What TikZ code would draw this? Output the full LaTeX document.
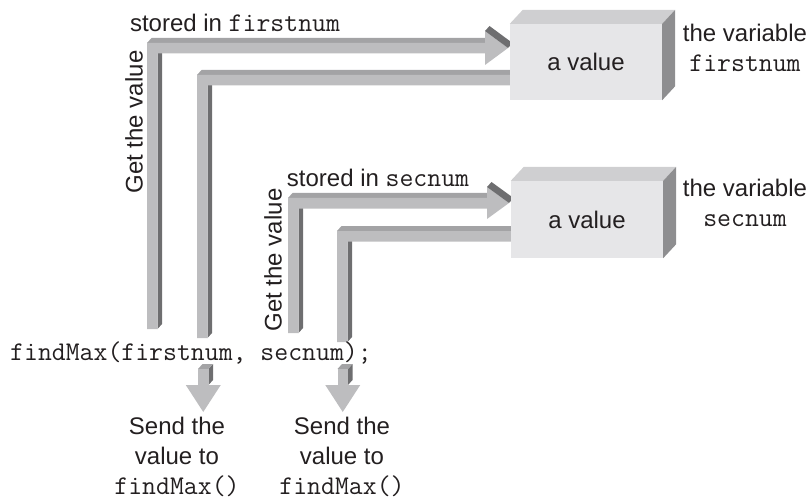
\documentclass[tikz,border=0pt]{standalone}
\usepackage{fontspec}
\setmainfont{Liberation Sans}
\definecolor{barfront}{HTML}{BDBDBF}
\definecolor{bartop}{HTML}{A3A3A5}
\definecolor{barside}{HTML}{6E6E70}
\definecolor{boxfront}{HTML}{E6E6E8}
\definecolor{boxtop}{HTML}{CFCFD1}
\definecolor{boxside}{HTML}{8E8E90}
\definecolor{ink}{HTML}{231F20}
\newcommand\cw[1]{{\ttfamily\fontsize{27}{30}\selectfont #1}}
% L-shaped 3D bar: x0 y0 x1 y1 w
\newcommand\Lbar[5]{%
 \fill[barside] (#1+#5,#2+#5) -- ++(4.5,-5) -- (#1+#5+4.5,#4-5) -- (#1+#5,#4) -- cycle;
 \fill[bartop] (#1,#2) -- ++(4.5,-5) -- (#3+4.5,#2-5) -- (#3,#2) -- cycle;
 \fill[barfront] (#1,#2) -- (#3,#2) -- (#3,#2+#5) -- (#1+#5,#2+#5) -- (#1+#5,#4) -- (#1,#4) -- cycle;
}
% right-pointing head: xbase ytop xtip ymid ybot
\newcommand\Rhead[5]{%
 \fill[barfront] (#1,#2) -- (#3,#4) -- (#1,#5) -- cycle;
 \fill[barside] (#1,#2) -- ++(4.5,-5) -- (#3+4.5,#4-5) -- (#3,#4) -- cycle;
}
% down arrow: xleft ytop w ybase tipy halfhead
\newcommand\Darrow[6]{%
 \fill[barside] (#1+#3,#2) -- ++(4.5,-5) -- (#1+#3+4.5,#4-5) -- (#1+#3,#4) -- cycle;
 \fill[bartop] (#1,#2) -- ++(4.5,-5) -- (#1+#3+4.5,#2-5) -- (#1+#3,#2) -- cycle;
 \fill[barfront] (#1,#2) rectangle (#1+#3,#4+0.5);
 \fill[barfront] (#1+#3/2-#6,#4) -- (#1+#3/2+#6,#4) -- (#1+#3/2,#5) -- cycle;
}
\begin{document}
\begin{tikzpicture}[x=1pt,y=-1pt,
  lab/.style={font=\fontsize{24}{30}\selectfont, text=ink, inner sep=0pt, align=center},
  code/.style={font=\ttfamily\fontsize{27}{30}\selectfont, text=ink, inner sep=0pt},
  valbox/.style={fill=boxfront, minimum width=152pt, minimum height=76pt, inner sep=0pt,
     font=\fontsize{24}{30}\selectfont, text=ink}]
\useasboundingbox (0,0) rectangle (809,500);
% bars
\Lbar{147}{43}{485}{329}{10.5}
\Rhead{485}{31}{508}{48}{65}
\Lbar{197}{75}{515}{338}{10.5}
\Lbar{288}{198}{487}{333}{10.5}
\Rhead{487}{187}{509}{203}{219}
\Lbar{337}{231}{515}{342}{10.5}
% boxes
\node[valbox] (b1) at (586,62) {a value};
\fill[boxtop] (b1.north west) -- ++(13,-14) -- ([shift={(13,-14)}]b1.north east) -- (b1.north east) -- cycle;
\fill[boxside] (b1.north east) -- ++(13,-14) -- ([shift={(13,-14)}]b1.south east) -- (b1.south east) -- cycle;
\node[valbox, minimum height=77pt] (b2) at (587,219.5) {a value};
\fill[boxtop] (b2.north west) -- ++(13,-14) -- ([shift={(13,-14)}]b2.north east) -- (b2.north east) -- cycle;
\fill[boxside] (b2.north east) -- ++(13,-14) -- ([shift={(13,-14)}]b2.south east) -- (b2.south east) -- cycle;
% down arrows
\Darrow{198}{369}{10.5}{385}{412}{17.5}
\Darrow{337.5}{369}{10.5}{385}{412}{17.5}
% texts
\node[lab] (s1) at (235,23) {stored in \cw{firstnum}};
\node[lab, rotate=90] (g1) at (134,122) {Get the value};
\node[lab] (v1) at (745,48) {the variable\\\cw{firstnum}};
\node[lab] (s2) at (378,178) {stored in \cw{secnum}};
\node[lab, rotate=90] (g2) at (273,260) {Get the value};
\node[lab] (v2) at (745,203) {the variable\\\cw{secnum}};
\node[code, anchor=west] (call) at (10,353) {findMax(firstnum, secnum);};
\node[lab] (t1) at (177,457) {Send the\\value to\\\cw{findMax()}};
\node[lab] (t2) at (342,457) {Send the\\value to\\\cw{findMax()}};
\end{tikzpicture}
\end{document}
